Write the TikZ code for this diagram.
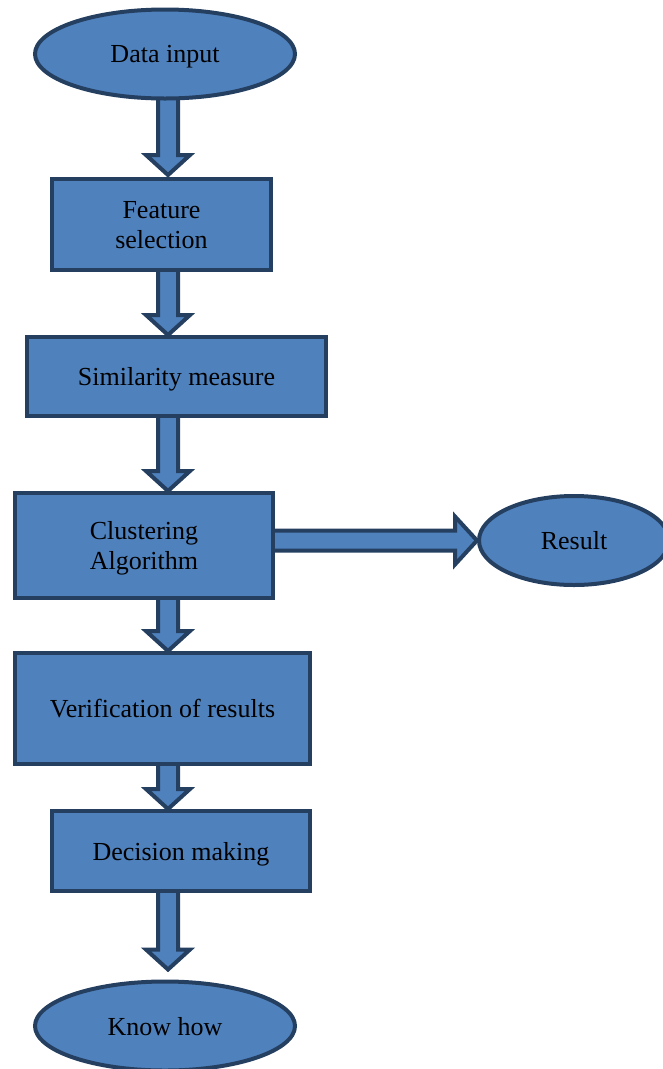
\documentclass[tikz,border=0pt]{standalone}
\usepackage{fontspec}
\setmainfont{Liberation Serif}
\usetikzlibrary{shapes.geometric,calc,backgrounds}
\definecolor{boxfill}{HTML}{4F81BD}
\definecolor{boxline}{HTML}{243F60}
\tikzset{
  flowbox/.style={draw=boxline, fill=boxfill, line width=4pt, rectangle, inner sep=0pt, align=center,
    text depth=0pt, font=\fontsize{26}{30}\selectfont},
  flowoval/.style={draw=boxline, fill=boxfill, line width=4pt, ellipse, inner sep=0pt, align=center,
    text depth=0pt, font=\fontsize{26}{30}\selectfont},
  blockarrow/.style={draw=boxline, fill=boxfill, line width=4pt, line join=miter}
}
\newcommand\vblock[3]{%
  \draw[blockarrow] let \p1=(axis |- #1.south), \p2=(axis |- #2.north) in
    (\x1-10pt,\y1+4pt) -- (\x1+10pt,\y1+4pt) -- (\x1+10pt,\y2+#3+20pt) -- (\x1+22pt,\y2+#3+20pt)
    -- (\x1,\y2+#3) -- (\x1-22pt,\y2+#3+20pt) -- (\x1-10pt,\y2+#3+20pt) -- cycle;}
\begin{document}
\begin{tikzpicture}[x=1pt,y=-1pt]
\useasboundingbox (0,0) rectangle (663,1069);
\coordinate (axis) at (168,0);
\node[flowoval, minimum width=260pt, minimum height=89pt] (data) at (165,54) {Data input};
\node[flowbox, minimum width=219pt, minimum height=91pt] (feat) at (161.5,224.5) {Feature\\selection};
\node[flowbox, minimum width=299pt, minimum height=79pt] (sim) at (176.5,376.5) {Similarity measure};
\node[flowbox, minimum width=258pt, minimum height=105pt] (clust) at (144,545.5) {Clustering\\Algorithm};
\node[flowoval, minimum width=190pt, minimum height=89pt] (res) at (574,540.5) {Result};
\node[flowbox, minimum width=295pt, minimum height=111pt] (verif) at (162.5,708.5) {Verification of results};
\node[flowbox, minimum width=258pt, minimum height=80pt] (dec) at (181,851) {Decision making};
\node[flowoval, minimum width=260pt, minimum height=89pt] (know) at (165,1026) {Know how};
\begin{scope}[on background layer]
\vblock{data}{feat}{2pt}
\vblock{feat}{sim}{0pt}
\vblock{sim}{clust}{0pt}
\vblock{clust}{verif}{0pt}
\vblock{verif}{dec}{0pt}
\vblock{dec}{know}{10pt}
\draw[blockarrow] let \p1=(clust.east), \p2=(res.west) in
  (\x1-4pt,\y2+10pt) -- (\x2-22pt,\y2+10pt) -- (\x2-22pt,\y2+24pt) -- (\x2,\y2)
  -- (\x2-22pt,\y2-24pt) -- (\x2-22pt,\y2-10pt) -- (\x1-4pt,\y2-10pt) -- cycle;
\end{scope}
\end{tikzpicture}
\end{document}
